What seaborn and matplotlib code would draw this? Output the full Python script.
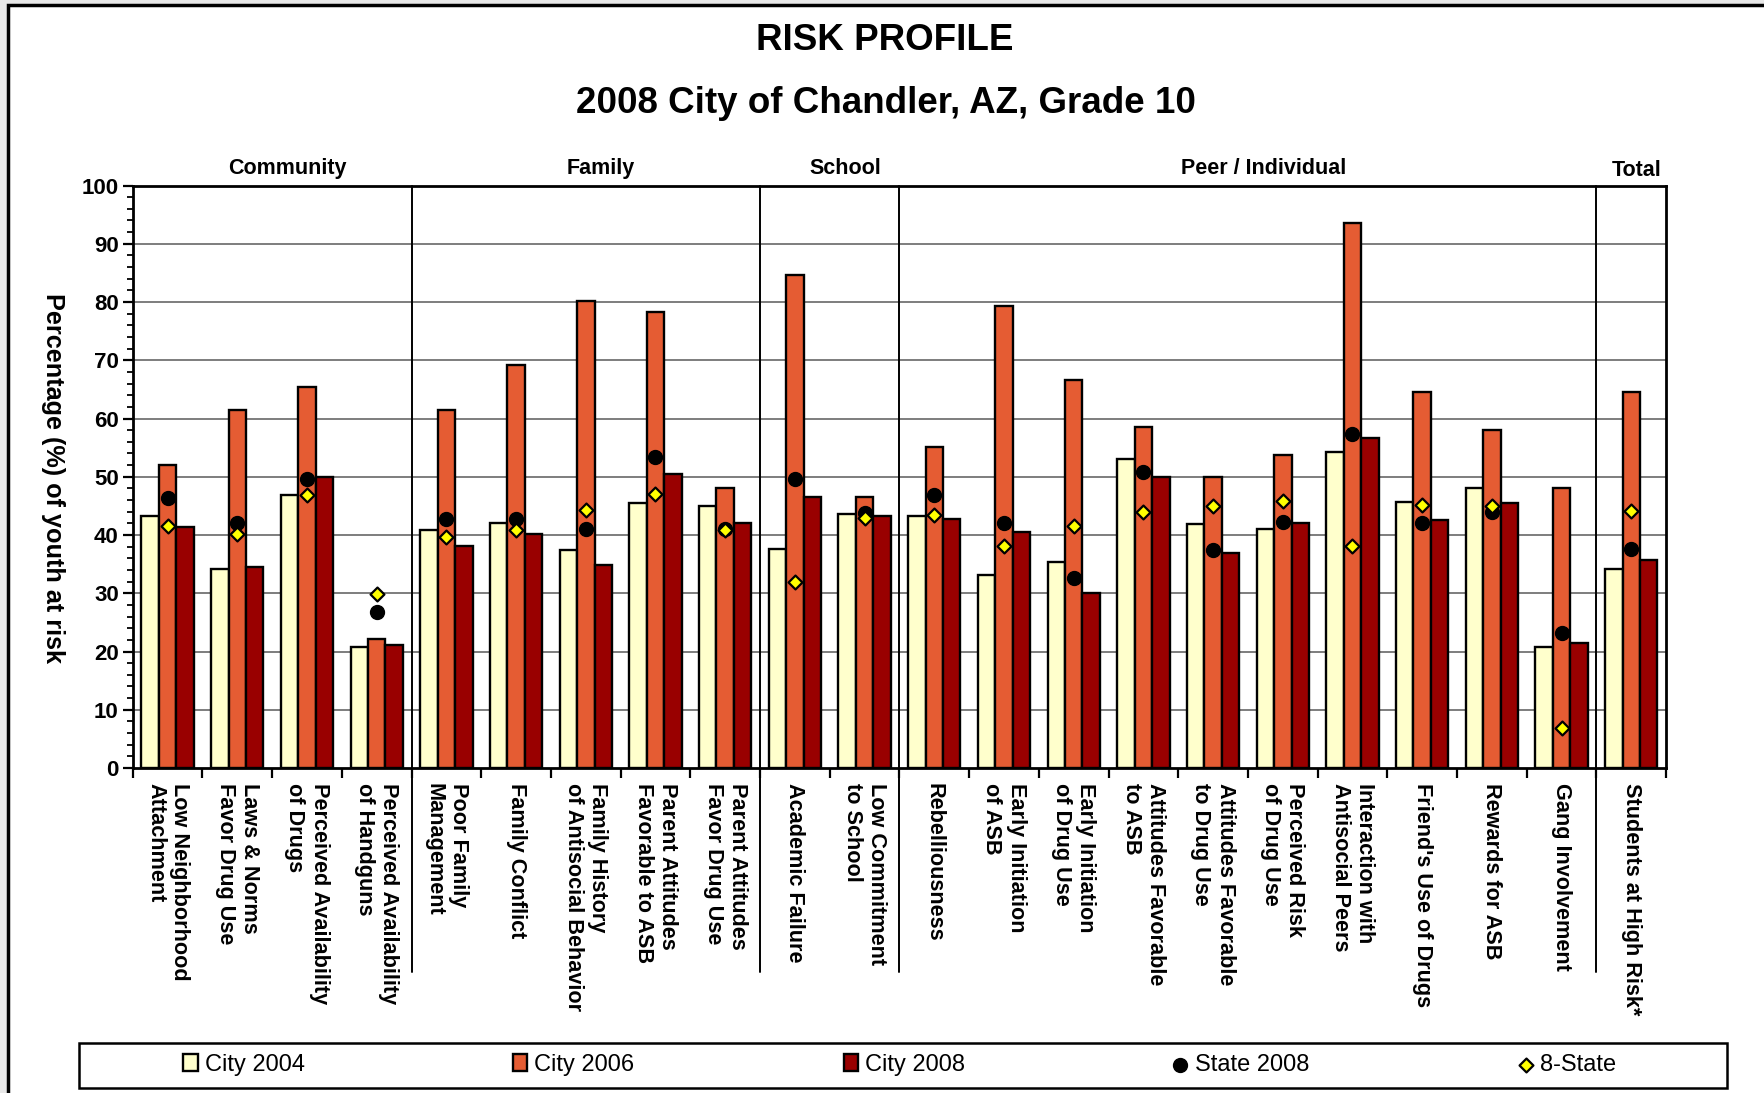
import numpy as np
import pandas as pd
import matplotlib
matplotlib.use("Agg")
import matplotlib.pyplot as plt
from matplotlib.patches import Rectangle
from matplotlib.lines import Line2D
import matplotlib.transforms as mtransforms
import seaborn as sns

# ---------------- data ----------------
categories = [
    "Low Neighborhood\nAttachment",
    "Laws & Norms\nFavor Drug Use",
    "Perceived Availability\nof Drugs",
    "Perceived Availability\nof Handguns",
    "Poor Family\nManagement",
    "Family Conflict",
    "Family History\nof Antisocial Behavior",
    "Parent Attitudes\nFavorable to ASB",
    "Parent Attitudes\nFavor Drug Use",
    "Academic Failure",
    "Low Commitment\nto School",
    "Rebelliousness",
    "Early Initiation\nof ASB",
    "Early Initiation\nof Drug Use",
    "Attitudes Favorable\nto ASB",
    "Attitudes Favorable\nto Drug Use",
    "Perceived Risk\nof Drug Use",
    "Interaction with\nAntisocial Peers",
    "Friend's Use of Drugs",
    "Rewards for ASB",
    "Gang Involvement",
    "Students at High Risk*",
]
city2004 = [43.2, 34.2, 46.8, 20.7, 40.9, 42.0, 37.4, 45.5, 45.0, 37.6, 43.6,
            43.3, 33.1, 35.3, 53.0, 41.9, 41.1, 54.3, 45.6, 48.1, 20.8, 34.1]
city2006 = [52.0, 61.4, 65.4, 22.2, 61.4, 69.2, 80.1, 78.3, 48.0, 84.6, 46.6,
            55.1, 79.3, 66.6, 58.6, 49.9, 53.7, 93.5, 64.5, 58.0, 48.0, 64.5]
city2008 = [41.4, 34.5, 50.0, 21.1, 38.2, 40.2, 34.9, 50.4, 42.1, 46.6, 43.3,
            42.7, 40.6, 30.0, 49.9, 36.9, 42.0, 56.6, 42.6, 45.5, 21.4, 35.7]
state2008 = [46.3, 42.1, 49.6, 26.7, 42.8, 42.8, 41.1, 53.4, 41.0, 49.6, 43.8,
             46.8, 42.1, 32.7, 50.8, 37.4, 42.3, 57.4, 42.0, 44.0, 23.2, 37.6]
eight_state = [41.5, 40.1, 46.8, 29.8, 39.6, 40.8, 44.3, 47.0, 40.8, 32.0, 42.9,
               43.5, 38.1, 41.6, 44.0, 44.9, 45.9, 38.2, 45.2, 44.9, 6.9, 44.2]
series_names = ["City 2004", "City 2006", "City 2008"]
point_names = ["State 2008", "8-State"]
group_names = ["Community", "Family", "School", "Peer / Individual", "Total"]
group_sizes = [4, 5, 2, 10, 1]

# ---------------- styles ----------------
bar_colors = ["#FFFFCC", "#E55C33", "#990000"]
FONT = ["Liberation Sans", "DejaVu Sans"]

sns.set_theme(style="white")
plt.rcParams["font.family"] = FONT
plt.rcParams["text.color"] = "black"
plt.rcParams["axes.labelcolor"] = "black"
plt.rcParams["xtick.color"] = "black"
plt.rcParams["ytick.color"] = "black"

df = pd.DataFrame({
    "category": categories * 3,
    "year": np.repeat(series_names, len(categories)),
    "value": city2004 + city2006 + city2008,
})

fig = plt.figure(figsize=(17.64, 10.93), dpi=100)
fig.patch.set_facecolor("#E8E8E8")
# white chart area with black frame (left/top visible)
fig.patches.append(Rectangle((0.0045, -0.2), 1.3, 0.2 + 0.995, transform=fig.transFigure,
                             facecolor="white", edgecolor="black", linewidth=2.5, zorder=-10))

ax = fig.add_axes([0.07526, 0.29733, 0.86926, 0.53292])
ax.set_facecolor("white")

sns.barplot(data=df, x="category", y="value", hue="year", order=categories,
            hue_order=series_names, palette=bar_colors, saturation=1,
            width=0.75, gap=0, edgecolor="black", linewidth=1.7, ax=ax,
            errorbar=None, zorder=3)

xpos = np.arange(len(categories))
ax.scatter(xpos, state2008, marker="o", s=100, color="black", zorder=6, label=point_names[0])
ax.scatter(xpos, eight_state, marker="D", s=50, facecolor="#FFFF00", edgecolor="black",
           linewidth=1.6, zorder=7, label=point_names[1])

handles, labels = ax.get_legend_handles_labels()
if ax.get_legend() is not None:
    ax.get_legend().remove()

# axes formatting
ax.set_xlim(-0.5, len(categories) - 0.5)
ax.set_ylim(0, 100)
ax.set_xlabel("")
ax.set_ylabel("")
ax.set_yticks(np.arange(0, 101, 10))
ax.set_yticks(np.arange(0, 101, 2), minor=True)
ax.set_yticklabels([str(v) for v in range(0, 101, 10)], fontsize=16, fontweight="bold")
ax.tick_params(axis="y", which="major", direction="out", length=7, width=1.6, pad=3, left=True)
ax.tick_params(axis="y", which="minor", direction="out", length=4.5, width=1.3, left=True)

ax.set_xticks(xpos)
ax.set_xticklabels(categories, fontsize=15.6, fontweight="bold")
ax.set_xticks(np.arange(-0.5, len(categories), 1), minor=True)
ax.tick_params(axis="x", which="major", length=0, pad=11)
ax.tick_params(axis="x", which="minor", direction="out", length=7, width=1.6, bottom=True)
for t in ax.get_xticklabels():
    t.set_rotation(270)
    t.set_ha("center")
    t.set_va("top")
    t.set_multialignment("left")

for y in range(10, 100, 10):
    ax.axhline(y, color="#5a5a5a", linewidth=1.1, zorder=1)

for s in ax.spines.values():
    s.set_visible(True)
    s.set_color("black")
    s.set_linewidth(2.0)

# group separators and labels
trans = mtransforms.blended_transform_factory(ax.transData, ax.transAxes)
bounds = np.cumsum(group_sizes)
start = 0
for name, size in zip(group_names, group_sizes):
    center = start + (size - 1) / 2.0
    off = 0.22 if name != "Total" else 0.08
    ypos = 1.029 if name != "Total" else 1.025
    ax.text(center + off, ypos, name, transform=trans, ha="center", va="center",
            fontsize=15.5, fontweight="bold")
    start += size
for b in bounds[:-1]:
    ax.add_line(Line2D([b - 0.5, b - 0.5], [-0.351, 1.0], transform=trans, color="black",
                       linewidth=1.4, clip_on=False, zorder=4))

# titles
fig.text(0.5016, 0.9625, "RISK PROFILE", ha="center", va="center", fontsize=26.5, fontweight="bold")
fig.text(0.5022, 0.905, "2008 City of Chandler, AZ, Grade 10", ha="center", va="center",
         fontsize=26.5, fontweight="bold")
fig.text(0.030, 0.563, "Percentage (%) of youth at risk", rotation=270, ha="center",
         va="center", fontsize=18.2, fontweight="bold")

# legend frame + entries
fig.patches.append(Rectangle((0.0446, 0.005), 0.9343, 0.0412, transform=fig.transFigure,
                             facecolor="white", edgecolor="black", linewidth=1.8, zorder=5))
leg_x = [0.104, 0.2908, 0.4783, 0.6652, 0.861]
for h, l, x in zip(handles, labels, leg_x):
    lg = fig.legend([h], [l], loc="center left", bbox_to_anchor=(x, 0.0257),
                    bbox_transform=fig.transFigure, frameon=False, fontsize=17,
                    handlelength=0.6, handleheight=0.7, handletextpad=0.3,
                    borderpad=0, borderaxespad=0)
    lg.set_zorder(10)

fig.savefig("out.png", dpi=100, facecolor=fig.get_facecolor())
